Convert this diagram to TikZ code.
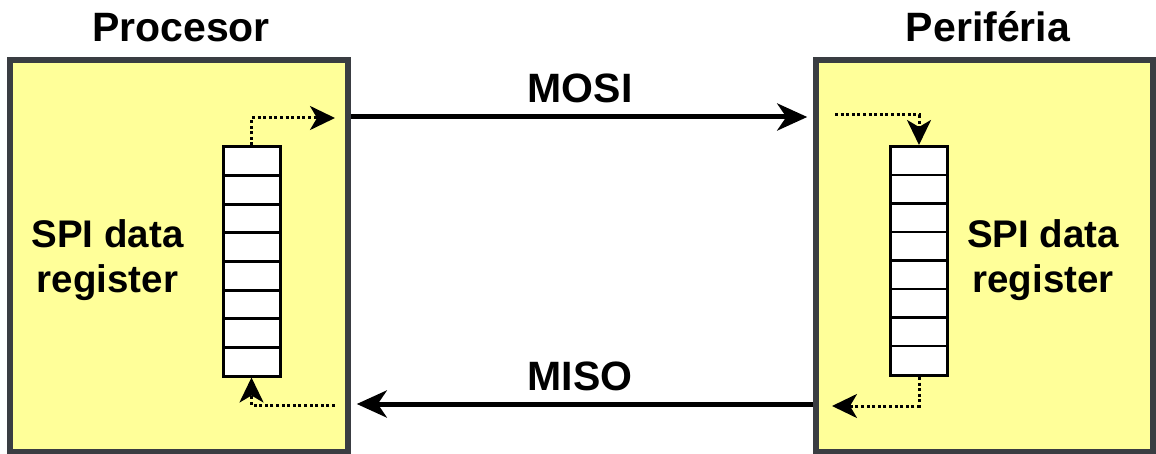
\documentclass[tikz,border=0pt]{standalone}
\usepackage{fontspec}
\setmainfont{Liberation Sans}
\usetikzlibrary{arrows.meta,calc}
\definecolor{boxfill}{HTML}{FFFF99}
\definecolor{boxline}{HTML}{3A3D42}
\begin{document}
\begin{tikzpicture}[x=1pt,y=-1pt,
  unit/.style={draw=boxline, fill=boxfill, line width=5.5pt, minimum height=392pt, inner sep=0pt},
  regbox/.style={draw=black, fill=white, line width=3pt, minimum width=57pt, minimum height=229pt, inner sep=0pt},
  cell/.style={draw=black, line width=2.8pt},
  title/.style={font=\bfseries\fontsize{41}{48}\selectfont, anchor=base, inner sep=0pt},
  regtext/.style={font=\bfseries\fontsize{38.5}{44}\selectfont, anchor=base, inner sep=0pt},
  mainarrow/.style={line width=5pt, -{Stealth[length=30pt,width=27pt,inset=9pt]}},
  dotarrow/.style={line width=3pt, dash pattern=on 3pt off 2.6pt, -{Stealth[length=25pt,width=24pt,inset=7pt]}}
]
\useasboundingbox (0,0) rectangle (1156,454);
\fill[white] (0,0) rectangle (1156,454);

\node[unit, minimum width=338pt] (proc) at (179,256) {};
\node[unit, minimum width=337pt] (periph) at (984.5,256) {};

\node[title] (proct) at (181,42) {Procesor};
\node[title] (periphT) at (988,42) {Periféria};

\node[regbox] (regL) at (251.5,261.5) {};
\node[regbox] (regR) at (919,261) {};
\foreach \i in {1,...,7} {
  \draw[cell] ($(regL.north west)+(1.5,\i*28.625+1.5)$) -- ($(regL.north east)+(-1.5,\i*28.625+1.5)$);
  \draw[cell] ($(regR.north west)+(1.5,\i*28.5+1.5)$) -- ($(regR.north east)+(-1.5,\i*28.5+1.5)$);
}

\node[regtext] (txtL1) at (107.5,248) {SPI data};
\node[regtext] (txtL2) at (107.5,293) {register};
\node[regtext] (txtR1) at (1043,248) {SPI data};
\node[regtext] (txtR2) at (1043,293) {register};

\node[title] (mosi) at (580,103) {MOSI};
\node[title] (miso) at (580,390) {MISO};

\draw[mainarrow, shorten >=6pt] (proc.east |- 0,117) -- (periph.west |- 0,117);
\draw[mainarrow, shorten >=6pt] (periph.west |- 0,404) -- (proc.east |- 0,404);

\coordinate (tl) at (335,118);
\coordinate (bl) at (335,405);
\coordinate (tr) at (835,115);
\coordinate (br) at (832,406);
\draw[dotarrow] (regL.north) |- (tl);
\draw[dotarrow] (bl) -| (regL.south);
\draw[dotarrow] (tr) -| (regR.north);
\draw[dotarrow] (regR.south) |- (br);
\end{tikzpicture}
\end{document}
